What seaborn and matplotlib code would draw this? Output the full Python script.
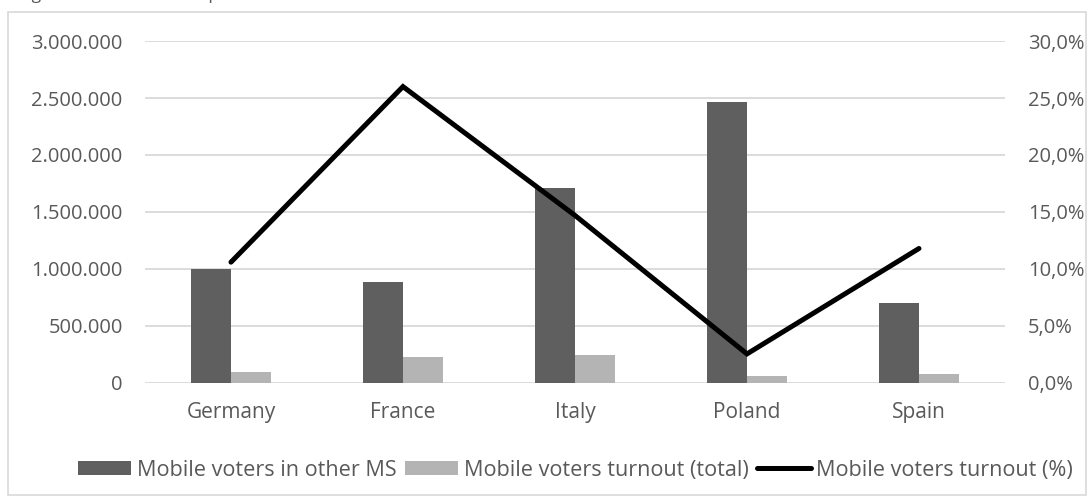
import matplotlib
matplotlib.use("Agg")
import matplotlib.pyplot as plt
from matplotlib.patches import Rectangle, Patch
from matplotlib.lines import Line2D
from matplotlib.ticker import FuncFormatter, MultipleLocator
import numpy as np
import pandas as pd
import seaborn as sns

# Data
countries = ["Germany", "France", "Italy", "Poland", "Spain"]
mobile_voters = [1000000, 885000, 1708000, 2468000, 705000]
turnout_total = [100000, 227000, 245000, 62000, 78000]
turnout_pct = [10.6, 26.0, 14.7, 2.55, 11.8]

series_names = ["Mobile voters in other MS", "Mobile voters turnout (total)", "Mobile voters turnout (%)"]

dark = "#5f5f5f"
light = "#b4b4b4"
text_col = "#595959"
grid_col = "#d9d9d9"

sns.set_theme(style="white")
plt.rcParams["font.family"] = ["Open Sans", "DejaVu Sans"]

fig = plt.figure(figsize=(10.9, 4.97), dpi=100)
ax = fig.add_axes([0.133, 0.2294, 0.789, 0.6881])

long_df = pd.DataFrame({
    "country": countries * 2,
    "value": mobile_voters + turnout_total,
    "series": [series_names[0]] * len(countries) + [series_names[1]] * len(countries),
})

sns.barplot(data=long_df, x="country", y="value", hue="series", order=countries,
            hue_order=series_names[:2], palette=[dark, light], width=0.47,
            saturation=1, ax=ax, legend=False, edgecolor="none")

ax.set_ylim(0, 3000000)
ax.set_xlim(-0.5, len(countries) - 0.5)
ax.yaxis.set_major_locator(MultipleLocator(500000))
ax.yaxis.set_major_formatter(FuncFormatter(lambda v, p: f"{int(v):,}".replace(",", ".")))
ax.grid(axis="y", color=grid_col, linewidth=1.3)
ax.set_axisbelow(True)
for s in ax.spines.values():
    s.set_visible(False)
ax.set_xlabel("")
ax.set_ylabel("")
ax.tick_params(axis="y", length=0, labelsize=14.5, colors=text_col, pad=16)
ax.tick_params(axis="x", length=0, labelsize=15, colors=text_col, pad=13.5)

# Secondary axis for the turnout share
ax2 = ax.twinx()
sns.lineplot(x=np.arange(len(countries)), y=turnout_pct, ax=ax2, color="black",
             linewidth=3.6, solid_capstyle="round", solid_joinstyle="miter", sort=False)
ax2.set_ylim(0, 30)
ax2.yaxis.set_major_locator(MultipleLocator(5))
ax2.yaxis.set_major_formatter(FuncFormatter(lambda v, p: f"{v:.1f}%".replace(".", ",")))
for s in ax2.spines.values():
    s.set_visible(False)
ax2.tick_params(axis="y", length=0, labelsize=14.5, colors=text_col, pad=16.5)
ax2.set_ylabel("")

# Legend along the bottom
handles = [
    Patch(facecolor=dark, edgecolor="none"),
    Patch(facecolor=light, edgecolor="none"),
    Line2D([0], [0], color="black", linewidth=3.6, solid_capstyle="round"),
]
fig.legend(handles, series_names, loc="center", bbox_to_anchor=(0.528, 0.054),
           ncol=3, frameon=False, fontsize=15.6, labelcolor=text_col,
           handlelength=2.45, handleheight=0.6, handletextpad=0.27, columnspacing=0.4)

# Chart frame and the heading above it
fig.patches.append(Rectangle((8 / 1090, 2 / 497), 1078 / 1090, 483 / 497,
                             transform=fig.transFigure, fill=False,
                             edgecolor=grid_col, linewidth=1.2))
fig.text(18.5 / 1090, 1 + 0.5 / 497, "Figure 4: Mobile voters per Member State",
         fontsize=12.6, color=text_col, ha="left", va="baseline")

fig.savefig("out.png", dpi=100)
